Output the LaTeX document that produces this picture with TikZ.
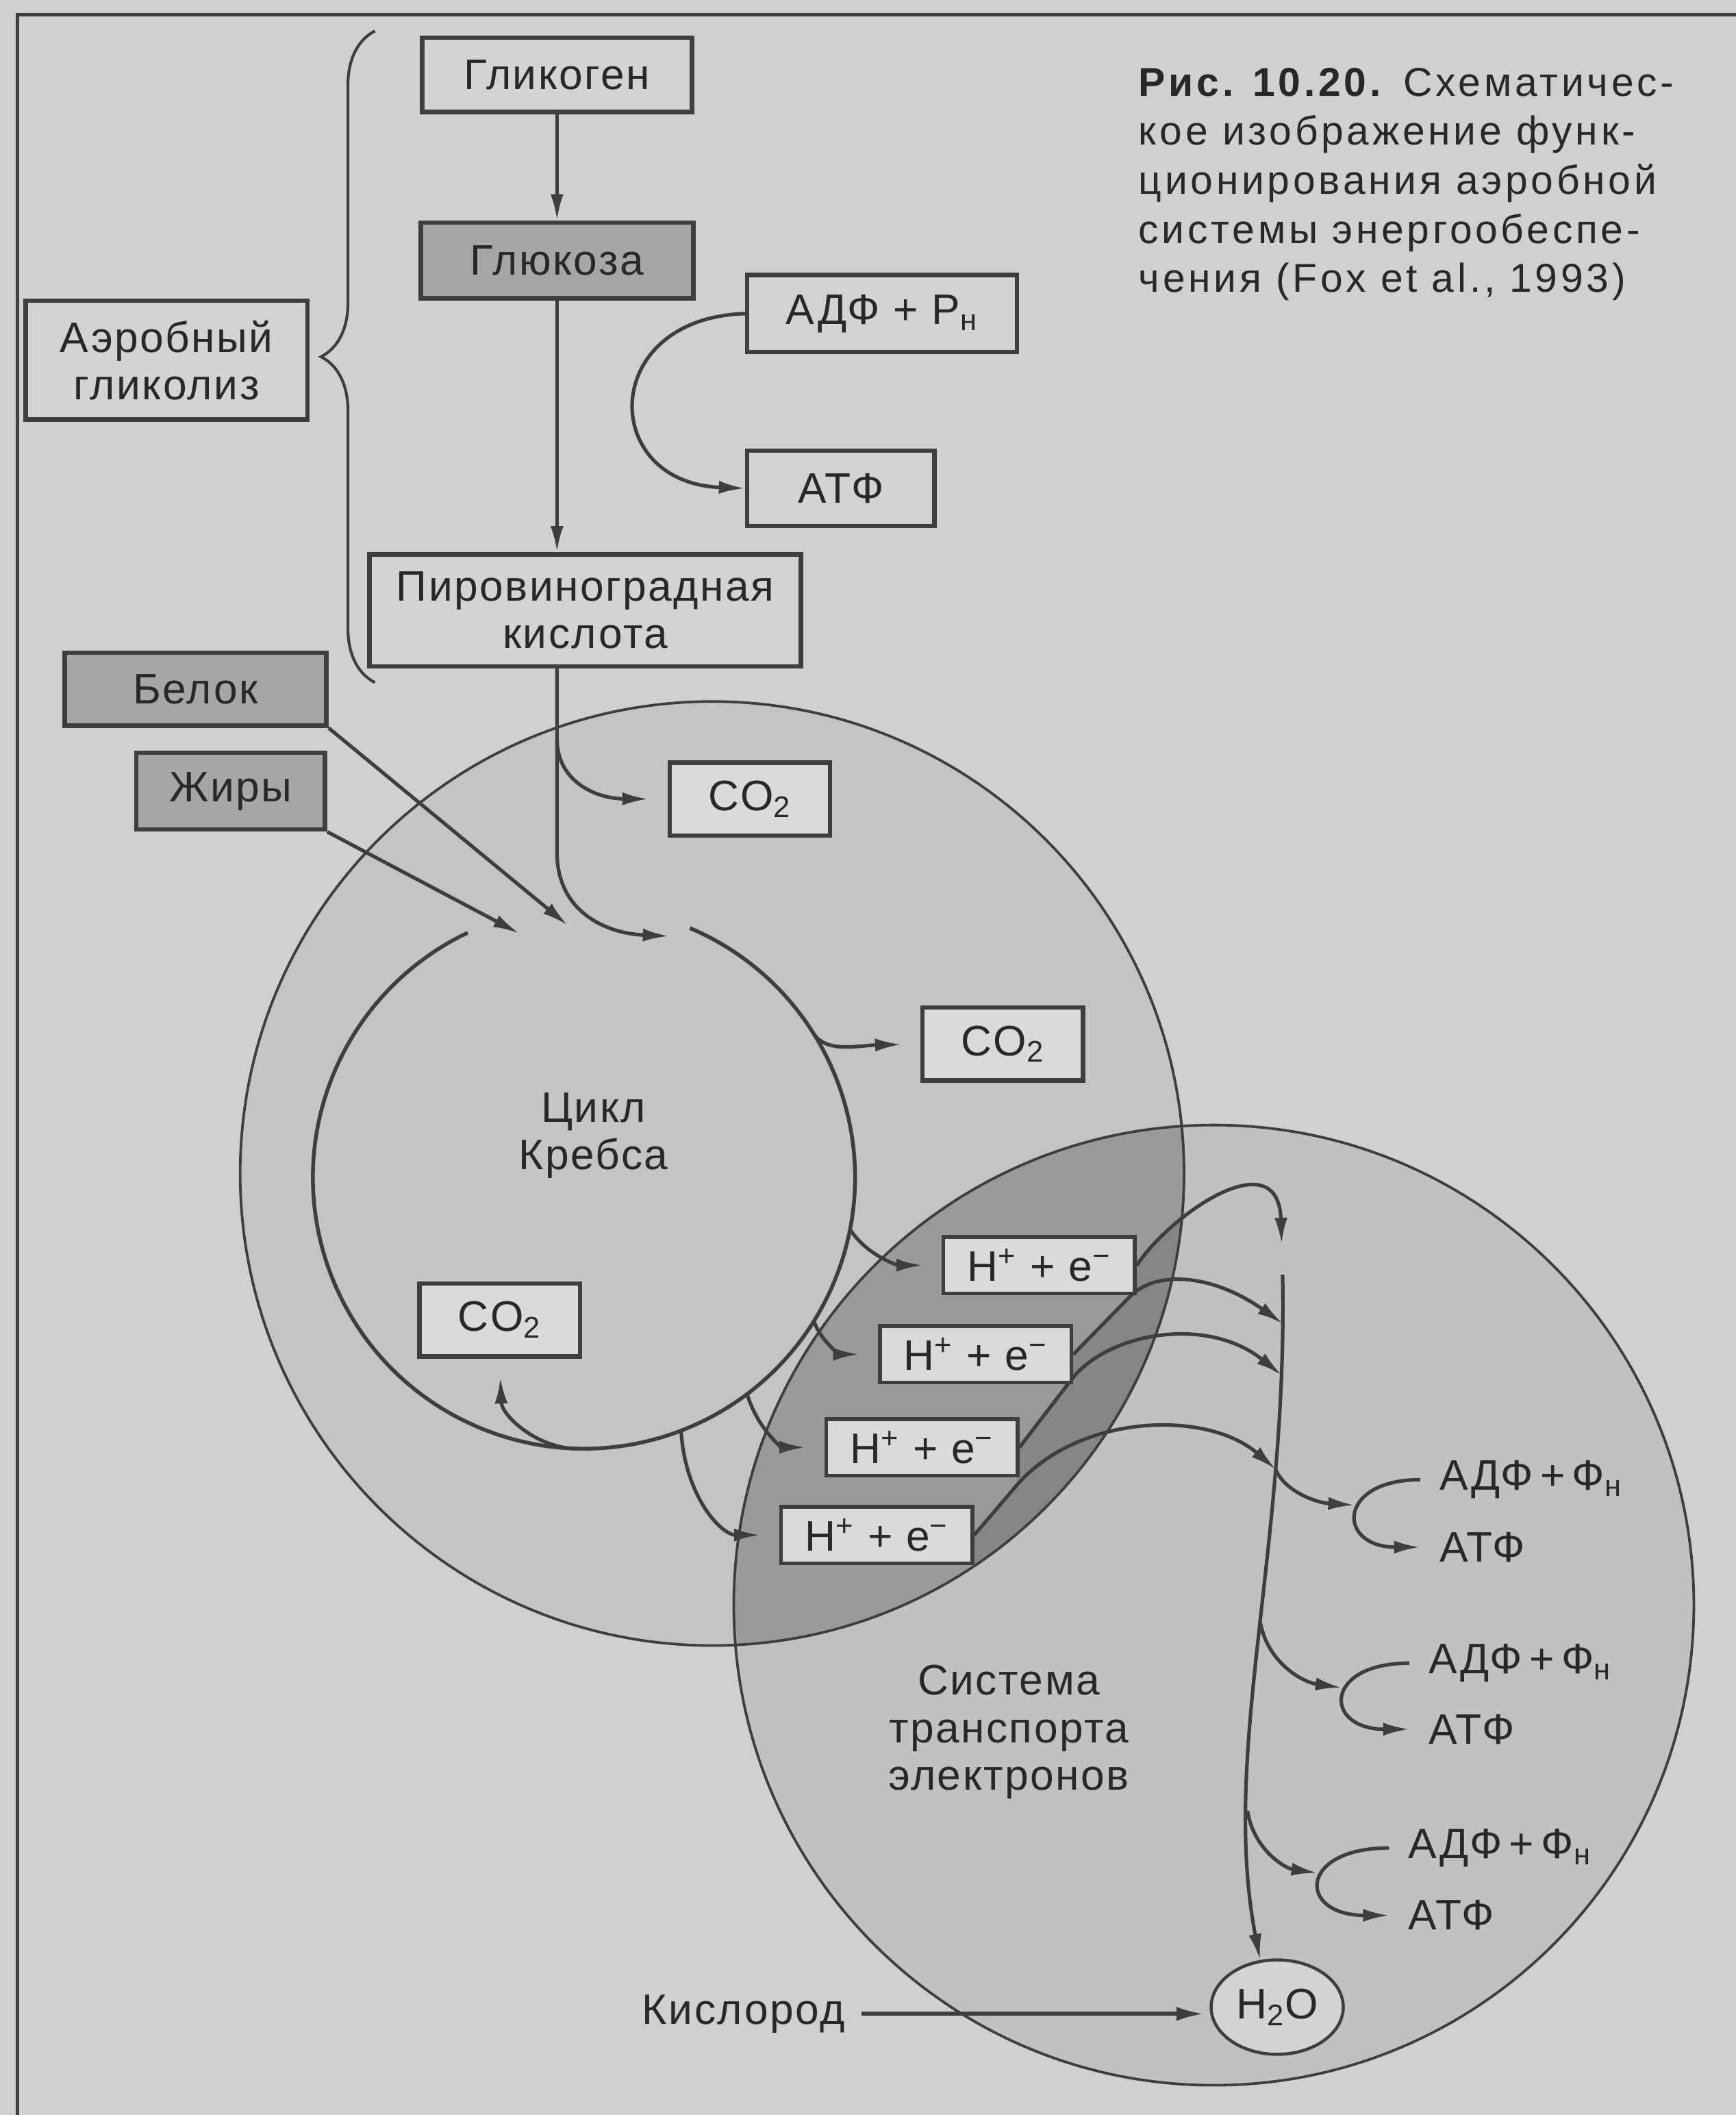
\documentclass[tikz,border=0pt]{standalone}
\usepackage{fontspec}
\setmainfont{Liberation Sans}[LetterSpace=4]
\usepackage{tikz}
\usetikzlibrary{
  arrows.meta,
  positioning,
  shapes.geometric,
  calc,
  backgrounds,
  decorations.pathreplacing
}
\definecolor{paper}{RGB}{208,208,208}
\definecolor{ink}{RGB}{62,62,62}
\definecolor{txtc}{RGB}{40,40,40}
\definecolor{krebsbg}{RGB}{196,196,196}
\definecolor{etsbg}{RGB}{193,193,193}
\definecolor{lensc}{RGB}{154,154,154}
\definecolor{bandc}{RGB}{134,134,134}
\definecolor{boxlight}{RGB}{211,211,211}
\definecolor{boxdark}{RGB}{166,166,166}
\definecolor{boxwhite}{RGB}{218,218,218}

\begin{document}
\begin{tikzpicture}[
  x=0.02cm,y=-0.02cm,
  font=\fontsize{18}{20}\selectfont,
  n/.style={rectangle,draw=ink,line width=1.9pt,fill=boxlight,inner sep=0pt,align=center,text=txtc},
  nd/.style={n,fill=boxdark},
  nc/.style={n,fill=boxwhite,minimum width=2.38cm,minimum height=1.08cm},
  nh/.style={n,fill=boxwhite,line width=1.6pt,minimum width=2.84cm,minimum height=0.84cm},
  lbl/.style={align=center,text=txtc,inner sep=0pt},
  ph/.style={lbl,anchor=west,inner xsep=8pt},
  a/.style={-{Latex[length=11pt,width=5.5pt]},line width=1.5pt,draw=ink},
  ag/.style={a,shorten >=8pt},
  rim/.style={draw=ink,line width=1.1pt}
]
\useasboundingbox (0,0) rectangle (1287,1568);

% glycolysis
\node[n,minimum width=4cm,minimum height=1.1cm] (gly) at (413,55.5) {Гликоген};
\node[nd,minimum width=4.04cm,minimum height=1.12cm] (glu) at (413,193) {Глюкоза};
\node[n,minimum width=4.18cm,minimum height=1.76cm] (aer) at (123.5,267) {Аэробный\\гликолиз};
\node[n,minimum width=4cm,minimum height=1.14cm] (adp) at (654,232.5) {АДФ + Р\textsubscript{н}};
\node[n,minimum width=2.78cm,minimum height=1.12cm] (atp) at (623.5,362) {АТФ};
\node[n,minimum width=6.4cm,minimum height=1.66cm] (pyr) at (434,452.5) {Пировиноградная\\кислота};
\node[nd,minimum width=3.88cm,minimum height=1.08cm] (prot) at (145,511) {Белок};
\node[nd,minimum width=2.8cm,minimum height=1.14cm] (fat) at (171,586.5) {Жиры};

% CO2 and H+ boxes
\node[nc] (co2a) at (556,592.5) {CO\textsubscript{2}};
\node[nc] (co2b) at (743.5,774) {CO\textsubscript{2}};
\node[nc] (co2c) at (370.5,978.5) {CO\textsubscript{2}};
\node[nh] (ha) at (770.5,938) {H\textsuperscript{+} + e\textsuperscript{−}};
\node[nh] (hb) at (723.5,1004) {H\textsuperscript{+} + e\textsuperscript{−}};
\node[nh] (hc) at (683.5,1073) {H\textsuperscript{+} + e\textsuperscript{−}};
\node[nh] (hd) at (650,1138) {H\textsuperscript{+} + e\textsuperscript{−}};

\node[lbl] (krebs) at (440,842) {Цикл\\Кребса};
\node[lbl] (ets) at (748,1284) {Система\\транспорта\\электронов};
\node[ellipse,draw=ink,line width=1.3pt,fill=boxlight,text=txtc,inner sep=0pt,
  minimum width=1.96cm,minimum height=1.4cm] (water) at (947,1488) {H\textsubscript{2}O};
\node[lbl,anchor=east,inner xsep=7pt] (oxy) at (639,1493) {Кислород};

% ADP -> ATP in the chain
\node[ph] (adp1) at (1053,1097) {АДФ\,+\,Ф\textsubscript{н}};
\node[ph] (atp1) at (1053,1147) {АТФ};
\node[ph] (adp2) at (1045,1233) {АДФ\,+\,Ф\textsubscript{н}};
\node[ph] (atp2) at (1045,1282) {АТФ};
\node[ph] (adp3) at (1030,1370) {АДФ\,+\,Ф\textsubscript{н}};
\node[ph] (atp3) at (1030,1420) {АТФ};

\node[lbl,align=left,anchor=north west,
  font={\fontsize{17}{20.7}\selectfont\addfontfeatures{LetterSpace=8}}] (cap) at (844,50)
  {\textbf{Рис. 10.20.} Схематичес-\\кое изображение функ-\\ционирования аэробной\\системы энергообеспе-\\чения (Fox et al., 1993)};

\begin{scope}[on background layer]
\fill[paper] (0,0) rectangle (1287,1568);
\draw[ink,line width=1.5pt] (13,1568) -- (13,11) -- (1287,11);
\draw[ink,line width=1.2pt,decorate,decoration={brace,amplitude=0.8cm}] (278,506) -- (278,23);

\coordinate (ko) at (528,870);
\coordinate (ec) at (900,1190);
\coordinate (kc) at (433,873);
\coordinate (ctop) at (951,945);
\fill[krebsbg] (ko) circle[radius=7cm];
\fill[etsbg] (ec) circle[radius=7.12cm];
\begin{scope}
  \clip (ko) circle[radius=7cm];
  \fill[lensc] (ec) circle[radius=7.12cm];
  \clip (ec) circle[radius=7.12cm];
  \fill[bandc] (721,1185) -- (hd.east) -- (754,1101) -- (hc.east) -- (795,1022) -- (hb.east)
    -- (838,961) -- (ha.east) .. controls (868,900) and (948,845) .. (ctop) -- (1100,1250) -- cycle;
\end{scope}
\draw[rim] (ko) circle[radius=7cm];
\draw[rim] (ec) circle[radius=7.12cm];

% Krebs cycle
\draw[ink,line width=1.6pt] ($(kc)+(67:4.02cm)$) arc[start angle=67,end angle=-244.6,radius=4.02cm];
\coordinate (k1) at ($(kc)+(32:4.02cm)$);
\coordinate (k2) at ($(kc)+(-11:4.02cm)$);
\coordinate (k3) at ($(kc)+(-32:4.02cm)$);
\coordinate (k4) at ($(kc)+(-53:4.02cm)$);
\coordinate (k5) at ($(kc)+(-69:4.02cm)$);
\coordinate (k6) at ($(kc)+(-91:4.02cm)$);
\coordinate (kin) at (496,694);
\coordinate (kinb) at (421,686);
\coordinate (kinf) at (385,692);
\coordinate (pbr) at (413,548);

\draw[a] (gly) -- (glu);
\draw[a] (glu) -- (glu.south |- pyr.north);
\draw[a] (adp.west) .. controls (444,236) and (444,358) .. (atp.west);
\draw[a] (pyr.south -| glu.south) -- (413,632) .. controls (413,675) and (448,692) .. (kin);
\draw[ag] (pbr) .. controls (413,578) and (440,592) .. (co2a.west);
\draw[a] (prot.south east) -- (kinb);
\draw[a] (fat.south east) -- (kinf);

\draw[ag] (k1) .. controls (613,781) and (637,775) .. (co2b.west);
\draw[ag] (k6) .. controls (400,1075) and (372,1050) .. (co2c.south);
\draw[ag] (k2) .. controls (642,930) and (665,938) .. (ha.west);
\draw[ag] (k3) .. controls (610,997) and (625,1004) .. (hb.west);
\draw[ag] (k4) .. controls (562,1060) and (580,1073) .. (hc.west);
\draw[ag] (k5) .. controls (508,1110) and (535,1138) .. (hd.west);

% electron transport chain
\draw[a] (ctop) .. controls (955,1150) and (905,1300) .. (water.110)
  coordinate[pos=0.06] (cb) coordinate[pos=0.125] (cc) coordinate[pos=0.25] (cd)
  coordinate[pos=0.47] (c2) coordinate[pos=0.76] (c3);
\draw[a,shorten >=13pt] (ha.east) .. controls (868,900) and (948,845) .. (ctop);
\draw[a] (hb.east) -- (838,961) .. controls (858,941) and (900,945) .. (cb);
\draw[a] (hc.east) -- (795,1022) .. controls (822,988) and (895,975) .. (cc);
\draw[a] (hd.east) -- (754,1101) .. controls (800,1048) and (895,1045) .. (cd);

\draw[a] (adp1.west) .. controls +(-62,0) and +(-62,0) .. (atp1.west) coordinate[pos=0.42] (e1);
\draw[a] (adp2.west) .. controls +(-64,0) and +(-64,0) .. (atp2.west) coordinate[pos=0.42] (e2);
\draw[a] (adp3.west) .. controls +(-68,0) and +(-68,0) .. (atp3.west) coordinate[pos=0.42] (e3);
\draw[a,shorten >=2pt] (cd) .. controls (952,1105) and (975,1114) .. (e1);
\draw[a,shorten >=2pt] (c2) .. controls (940,1232) and (965,1247) .. (e2);
\draw[a,shorten >=2pt] (c3) .. controls (929,1370) and (952,1385) .. (e3);

\draw[a,line width=1.8pt,-{Latex[length=12pt,width=6pt]},shorten >=2pt] (oxy.east) -- (oxy.east -| water.west);
\end{scope}
\end{tikzpicture}
\end{document}
